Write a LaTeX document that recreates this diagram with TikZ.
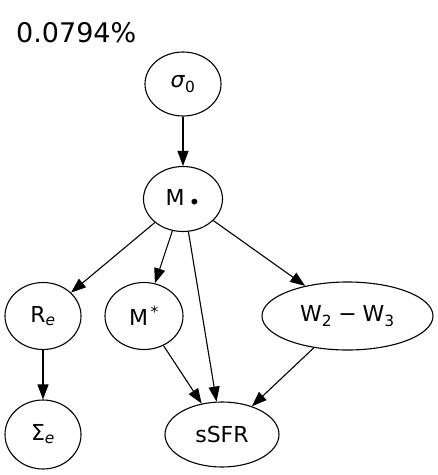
\documentclass[tikz,border=0pt]{standalone}
\usepackage{fontspec}
\setmainfont{DejaVu Sans}
\usetikzlibrary{shapes.geometric,arrows.meta}

\newcommand{\lowsub}[1]{\textsubscript{#1}}

\begin{document}
\begin{tikzpicture}[x=1pt,y=1pt,
    var/.style={draw,ellipse,line width=1.1pt,inner sep=0pt,font=\fontsize{22}{24}\selectfont}]
      \useasboundingbox (0,0) rectangle (438,-475);
      \node[anchor=base west,inner sep=0pt,font=\fontsize{27}{30}\selectfont] (score) at (16,-42) {0.0794\%};
      \draw
        (183,-84) node[var,minimum width=76,minimum height=64] (sig){\textit{σ}\lowsub{0}}
        (183,-199) node[var,minimum width=79,minimum height=65] (mbh){M\hspace{4pt}\raisebox{-4pt}{\fontsize{20}{20}\selectfont •}}
        (43,-316) node[var,minimum width=76,minimum height=67] (re){R\lowsub{\textit{e}}}
        (144,-316) node[var,minimum width=78,minimum height=67] (mstar){M\textsuperscript{\,*}}
        (347.5,-316) node[var,minimum width=171,minimum height=68] (color){W\lowsub{2}\hspace{6pt}−\hspace{6pt}W\lowsub{3}}
        (43,-434.5) node[var,minimum width=76,minimum height=69] (sige){Σ\lowsub{\textit{e}}}
        (222,-434.5) node[var,minimum width=114,minimum height=65] (ssfr){sSFR};
      \begin{scope}[line width=1.1pt,-{Triangle[length=15pt,width=11pt]}]
        \draw (sig) -- (mbh);
        \draw (mbh) -- (re);
        \draw (mbh) -- (mstar);
        \draw (mbh) -- (ssfr);
        \draw (mbh) -- (color);
        \draw (re) -- (sige);
        \draw (mstar) -- (ssfr);
        \draw (color) -- (ssfr);
      \end{scope}
    \end{tikzpicture}
\end{document}
